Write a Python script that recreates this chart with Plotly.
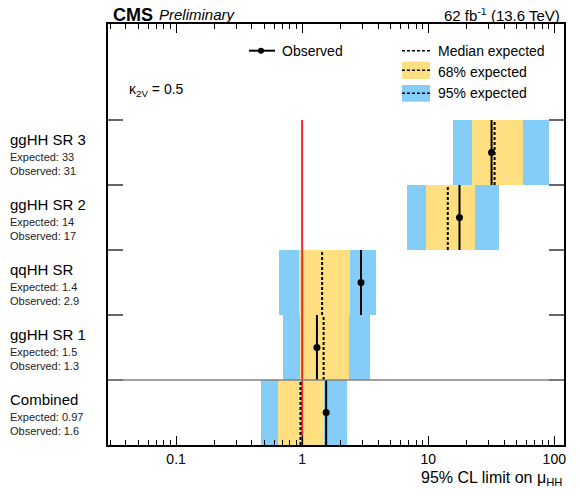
import plotly.graph_objects as go

# rows from bottom to top
categories = ["Combined", "ggHH SR 1", "qqHH SR", "ggHH SR 2", "ggHH SR 3"]
expected = [0.97, 1.48, 1.44, 14.3, 33.6]
observed = [1.55, 1.31, 2.93, 17.7, 31.8]
lo68 = [0.642, 0.97, 0.94, 9.54, 22.1]
hi68 = [1.49, 2.34, 2.39, 23.4, 56.2]
lo95 = [0.474, 0.70, 0.655, 6.78, 15.7]
hi95 = [2.26, 3.45, 3.88, 36.3, 91.4]
exp_text = ["0.97", "1.5", "1.4", "14", "33"]
obs_text = ["1.6", "1.3", "2.9", "17", "31"]
sm_value = 1.0

FONT = "Liberation Sans"
BLUE = "#85cdf9"
YELLOW = "#ffdf7f"

centers = [i + 0.5 for i in range(len(categories))]

fig = go.Figure()

fig.add_trace(go.Bar(orientation="h", y=centers, base=lo95,
                     x=[h - l for h, l in zip(hi95, lo95)], width=1,
                     marker=dict(color=BLUE, line=dict(width=0))))
fig.add_trace(go.Bar(orientation="h", y=centers, base=lo68,
                     x=[h - l for h, l in zip(hi68, lo68)], width=1,
                     marker=dict(color=YELLOW, line=dict(width=0))))

# SM reference
fig.add_trace(go.Scatter(x=[sm_value, sm_value], y=[0, len(categories)], mode="lines",
                         line=dict(color="#ec2b32", width=2)))

ex, ey, ox, oy = [], [], [], []
for i in range(len(categories)):
    ex += [expected[i], expected[i], None]
    ey += [i, i + 1, None]
    ox += [observed[i], observed[i], None]
    oy += [i, i + 1, None]

fig.add_trace(go.Scatter(x=ex, y=ey, mode="lines",
                         line=dict(color="black", width=2, dash="3px,2px")))
fig.add_trace(go.Scatter(x=ox, y=oy, mode="lines", line=dict(color="black", width=2)))
fig.add_trace(go.Scatter(x=observed, y=centers, mode="markers",
                         marker=dict(color="black", size=7)))

# row labels (start at the very left edge of the figure)
lab_x = -100 / 456
for i, c in enumerate(centers):
    fig.add_annotation(x=lab_x, xref="paper", y=c, yref="y", xanchor="left", yanchor="middle",
                       text=categories[i], showarrow=False, yshift=13,
                       font=dict(family=FONT, size=15, color="black"))
    fig.add_annotation(x=lab_x, xref="paper", y=c, yref="y", xanchor="left", yanchor="middle",
                       text="Expected: " + exp_text[i], showarrow=False, yshift=-4,
                       font=dict(family=FONT, size=11, color="#222"))
    fig.add_annotation(x=lab_x, xref="paper", y=c, yref="y", xanchor="left", yanchor="middle",
                       text="Observed: " + obs_text[i], showarrow=False, yshift=-18.5,
                       font=dict(family=FONT, size=11, color="#222"))

# separator between combined and the categories
fig.add_shape(type="line", xref="paper", x0=0, x1=1, yref="y", y0=1, y1=1,
              line=dict(color="#808080", width=1.5), layer="above")


def note(x, y, text, size, xanchor="left"):
    fig.add_annotation(x=x, y=y, xref="paper", yref="paper", xanchor=xanchor,
                       yanchor="middle", text=text, showarrow=False,
                       font=dict(family=FONT, size=size, color="black"))


# header
note(0.0057, 1.0214, "<b>CMS</b>", 18)
note(0.1075, 1.0214, "<i>Preliminary</i>", 15)
note(0.9956, 1.0214, "62 fb<sup>-1</sup> (13.6 TeV)", 15, "right")
note(0.0417, 0.8432, "κ<sub>2V</sub> = 0.5", 14)
note(1.0, -0.0784, "95% CL limit on μ<sub>HH</sub>", 16, "right")

# legend drawn by hand
lx0, lx1 = 0.6447, 0.7061
fig.add_shape(type="line", xref="paper", yref="paper", x0=0.3092, x1=0.3662,
              y0=0.9366, y1=0.9366, line=dict(color="black", width=2))
fig.add_shape(type="circle", xref="paper", yref="paper", xsizemode="pixel", ysizemode="pixel",
              xanchor=0.3355, yanchor=0.9366, x0=-3, x1=3, y0=-3, y1=3,
              fillcolor="black", line=dict(width=0))
fig.add_shape(type="line", xref="paper", yref="paper", x0=lx0, x1=lx1,
              y0=0.9366, y1=0.9366, line=dict(color="black", width=1.5, dash="3px,2px"))
fig.add_shape(type="rect", xref="paper", yref="paper", x0=lx0, x1=lx1,
              y0=0.8694, y1=0.9105, fillcolor=YELLOW, line=dict(width=0))
fig.add_shape(type="line", xref="paper", yref="paper", x0=lx0, x1=lx1,
              y0=0.8900, y1=0.8900, line=dict(color="black", width=1.5, dash="3px,2px"))
fig.add_shape(type="rect", xref="paper", yref="paper", x0=lx0, x1=lx1,
              y0=0.8154, y1=0.8551, fillcolor=BLUE, line=dict(width=0))
fig.add_shape(type="line", xref="paper", yref="paper", x0=lx0, x1=lx1,
              y0=0.8354, y1=0.8354, line=dict(color="black", width=1.5, dash="3px,2px"))
note(0.3772, 0.9366, "Observed", 14)
note(0.7193, 0.9366, "Median expected", 14)
note(0.7193, 0.8860, "68% expected", 14)
note(0.7193, 0.8354, "95% expected", 14)

minor_ticks = [k * 10 ** e for e in range(-2, 3) for k in range(2, 10)]

# the page body adds an 8px offset, so the figure is 8px smaller each way
fig.update_layout(
    width=572, height=488,
    margin=dict(l=100, r=16, t=16, b=51),
    plot_bgcolor="white", paper_bgcolor="white",
    showlegend=False, barmode="overlay", bargap=0,
    font=dict(family=FONT, size=14, color="black"),
    xaxis=dict(type="log", range=[-1.54, 2.077], tickvals=[0.1, 1, 10, 100],
               ticktext=["0.1", "1", "10", "100"], ticks="inside", ticklen=9,
               tickcolor="black", showline=True, linecolor="black", linewidth=1.5,
               mirror="ticks", showgrid=False, zeroline=False,
               tickfont=dict(family=FONT, size=14),
               minor=dict(tickvals=minor_ticks, ticks="inside", ticklen=5,
                          tickcolor="black", showgrid=False)),
    yaxis=dict(range=[0, 6.477], tickvals=[1, 2, 3, 4, 5], showticklabels=False,
               ticks="inside", ticklen=15, tickcolor="#666", tickwidth=1.5,
               showline=True, linecolor="black", linewidth=1.5, mirror="ticks",
               showgrid=False, zeroline=False),
)

fig.write_html("out.html")
